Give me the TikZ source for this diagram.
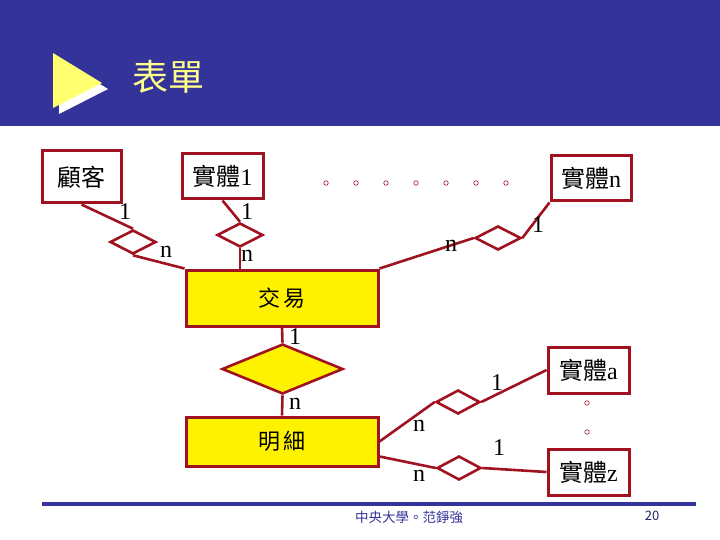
\documentclass[tikz,border=0pt]{standalone}
\usepackage{fontspec}
\setmainfont{Liberation Serif}
\newfontfamily\cjk{Noto Sans CJK TC}
\usetikzlibrary{shapes.geometric,calc}
\definecolor{erred}{RGB}{160,18,32}
\definecolor{slideblue}{RGB}{51,51,153}
\definecolor{titleyel}{RGB}{255,255,140}

\begin{document}
\begin{tikzpicture}[x=1pt, y=-1pt, line join=miter,
  ent/.style={draw=erred, line width=3pt, fill=white, inner sep=0pt, font=\fontsize{24}{24}\selectfont},
  weak/.style={ent, fill=yellow, font=\fontsize{22}{22}\selectfont},
  rel/.style={diamond, draw=erred, line width=2.6pt, fill=white, inner sep=0pt},
  conn/.style={draw=erred, line width=2.6pt},
  card/.style={inner sep=0pt, font=\fontsize{24}{24}\selectfont},
  dot/.style={circle, draw=erred, line width=0.6pt, inner sep=0pt, minimum size=4.5pt}]
\useasboundingbox (0,0) rectangle (720,540);
\fill[white] (0,0) rectangle (720,540);
% ---------------- title band
\fill[slideblue] (0,0) rectangle (720,126);
\fill[white] (59,59) -- (108,89) -- (59,114) -- cycle;
\fill[titleyel!80!yellow] (53,53) -- (102,83) -- (53,108) -- cycle;
\node[text=titleyel, font=\cjk\fontsize{36}{36}\selectfont] (title) at (168,77) {表單};
% ---------------- entities
\node[ent, minimum width=79pt, minimum height=52pt] (cust) at (81.5,177) {\cjk 顧客};
\node[ent, minimum width=81pt, minimum height=45pt] (ent1) at (222.5,176.5) {{\cjk 實體}1};
\node[ent, minimum width=80pt, minimum height=45pt] (entn) at (591,178.5) {{\cjk 實體}n};
\node[weak, minimum width=192pt, minimum height=56pt] (trans) at (282,298) {\cjk 交\,易};
\node[weak, minimum width=192pt, minimum height=49pt] (detail) at (282,441.5) {\cjk 明\,細};
\node[ent, minimum width=81pt, minimum height=46pt] (enta) at (588.5,370) {{\cjk 實體}a};
\node[ent, minimum width=81pt, minimum height=46pt] (entz) at (588.5,472) {{\cjk 實體}z};
% ---------------- relationships
\node[rel, minimum width=46pt, minimum height=24pt] (rcust) at (133,242) {};
\node[rel, minimum width=46pt, minimum height=24pt] (rone) at (240,235) {};
\node[rel, minimum width=46pt, minimum height=24pt] (rn) at (498,238) {};
\node[rel, fill=yellow, minimum width=121pt, minimum height=50pt] (rdet) at (282.5,369) {};
\node[rel, minimum width=44pt, minimum height=24pt] (ra) at (458,402) {};
\node[rel, minimum width=44pt, minimum height=24pt] (rz) at (459,468) {};
% ---------------- connectors
\coordinate (dlow) at ([yshift=-15pt]detail.east);
\draw[conn] (cust.south) -- (rcust.north); \draw[conn] (rcust.south) -- (trans.north west);
\draw[conn] (ent1.south) -- (rone.north); \draw[conn] (rone.south) -- (rone.south |- trans.north);
\draw[conn] (trans.north east) -- (rn.west); \draw[conn] (rn.east) -- (entn.south west);
\draw[conn] (trans.south) -- (rdet.north); \draw[conn] (rdet.south) -- (detail.north);
\draw[conn] (detail.east) -- (ra.west); \draw[conn] (ra.east) -- (enta.west);
\draw[conn] (dlow) -- (rz.west); \draw[conn] (rz.east) -- (entz.west);
% ---------------- cardinalities
\node[card] (c1) at (125,212) {1};
\node[card] (c2) at (166,252) {n};
\node[card] (c3) at (247,212) {1};
\node[card] (c4) at (247,256) {n};
\node[card] (c5) at (451,246) {n};
\node[card] (c6) at (538,225) {1};
\node[card] (c7) at (295,337) {1};
\node[card] (c8) at (295,404) {n};
\node[card] (c9) at (497,383) {1};
\node[card] (c10) at (419,426) {n};
\node[card] (c11) at (499,448) {1};
\node[card] (c12) at (419,476) {n};
% ---------------- ellipsis marks
\foreach \i in {0,...,6} \node[dot] (td\i) at (326+30*\i,183) {};
\node[dot] (va) at (587,403) {};
\node[dot] (vb) at (587,432) {};
% ---------------- footer
\fill[slideblue] (42,502) rectangle (696,506);
\node[text=slideblue, font=\cjk\fontsize{13.5}{13.5}\selectfont] (foot) at (409,517) {中央大學。范錚強};
\node[text=slideblue!70!black, font=\cjk\fontsize{13}{13}\selectfont] (pgno) at (652,516) {20};
\end{tikzpicture}
\end{document}
